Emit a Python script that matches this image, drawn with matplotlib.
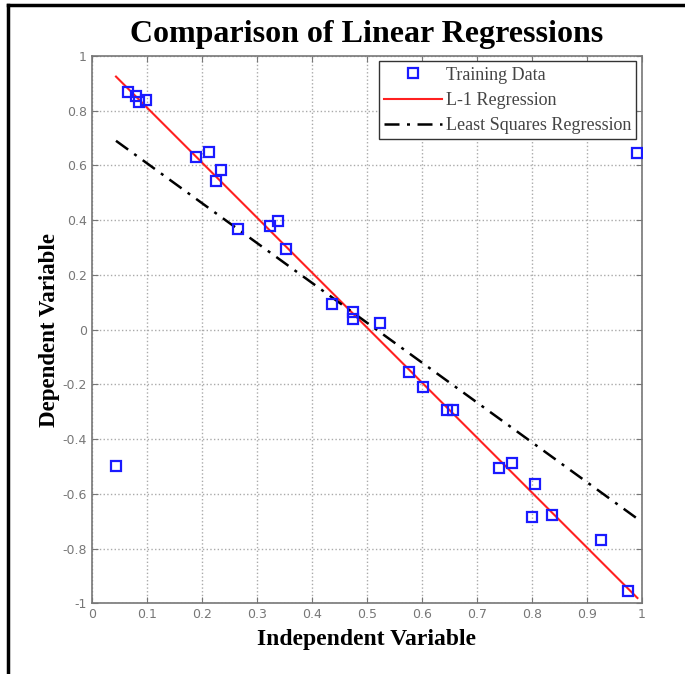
import matplotlib
matplotlib.use('Agg')
import matplotlib.pyplot as plt
from matplotlib.lines import Line2D
import numpy as np

# training data
x_train = [0.044, 0.066, 0.081, 0.085, 0.099, 0.190, 0.213, 0.225, 0.235,
           0.265, 0.324, 0.339, 0.353, 0.436, 0.474, 0.474, 0.524, 0.577,
           0.602, 0.646, 0.656, 0.741, 0.764, 0.800, 0.805, 0.836, 0.925,
           0.974, 0.992]
y_train = [-0.498, 0.868, 0.853, 0.831, 0.838, 0.631, 0.650, 0.544, 0.583,
           0.368, 0.378, 0.395, 0.293, 0.094, 0.064, 0.038, 0.025, -0.156,
           -0.208, -0.295, -0.295, -0.507, -0.489, -0.685, -0.563, -0.678,
           -0.768, -0.956, 0.647]

# fitted line coefficients (intercept, slope)
l1_coef = [1.013, -2.01]
ls_coef = [0.754, -1.457]

xticks = [0, 0.1, 0.2, 0.3, 0.4, 0.5, 0.6, 0.7, 0.8, 0.9, 1]
xticklabels = ['0', '0.1', '0.2', '0.3', '0.4', '0.5', '0.6', '0.7', '0.8', '0.9', '1']
yticks = [-1, -0.8, -0.6, -0.4, -0.2, 0, 0.2, 0.4, 0.6, 0.8, 1]
yticklabels = ['-1', '-0.8', '-0.6', '-0.4', '-0.2', '0', '0.2', '0.4', '0.6', '0.8', '1']


def main():
  fig = plt.figure(figsize=(6.85, 6.74), dpi=100)
  ax = fig.add_axes([0.134, 0.105, 0.803, 0.812])

  xl = np.array([min(x_train), max(x_train)])

  ax.plot(x_train, y_train, 's', mfc='none', mec='#1a1aff', mew=1.6, ms=6.5,
          label='Training Data', zorder=3)
  ax.plot(xl, l1_coef[0] + l1_coef[1] * xl, '-', color='#ff2020', lw=1.5,
          label='L-1 Regression')
  ax.plot(xl, ls_coef[0] + ls_coef[1] * xl, color='black', lw=1.8,
          dashes=(6, 3, 1.2, 3), label='Least Squares Regression')

  ax.set_xlim(0, 1)
  ax.set_ylim(-1, 1)
  ax.set_xticks(xticks)
  ax.set_xticklabels(xticklabels)
  ax.set_yticks(yticks)
  ax.set_yticklabels(yticklabels)
  ax.tick_params(direction='in', top=True, right=True, length=4,
                 colors='#777777', labelsize=9, width=0.8)
  for s in ax.spines.values():
    s.set_color('#777777')
    s.set_linewidth(1.2)
  ax.grid(True, linestyle=':', color='#aaaaaa', linewidth=1.0)

  serif = ['Liberation Serif', 'DejaVu Serif']
  ax.set_title('Comparison of Linear Regressions', fontsize=23,
               fontweight='bold', family=serif, pad=10)
  ax.set_xlabel('Independent Variable', fontsize=17, fontweight='bold',
                family=serif, labelpad=6)
  ax.set_ylabel('Dependent Variable', fontsize=16.5, fontweight='bold',
                family=serif, labelpad=2)

  leg = ax.legend(loc='upper right', prop={'family': serif, 'size': 13},
                  fancybox=False, framealpha=1, edgecolor='#333333',
                  borderpad=0.3, labelspacing=0.45, handlelength=3.2,
                  handletextpad=0.2, borderaxespad=0.3)
  for t in leg.get_texts():
    t.set_color('#444444')

  # black frame on the top and left edge of the image
  fig.add_artist(Line2D([0.012, 1.0], [0.993, 0.993], color='black', lw=2.5,
                        transform=fig.transFigure))
  fig.add_artist(Line2D([0.012, 0.012], [0.0, 0.993], color='black', lw=2.5,
                        transform=fig.transFigure))

  fig.savefig('out.png', dpi=100)

if __name__ == '__main__':
  main()
